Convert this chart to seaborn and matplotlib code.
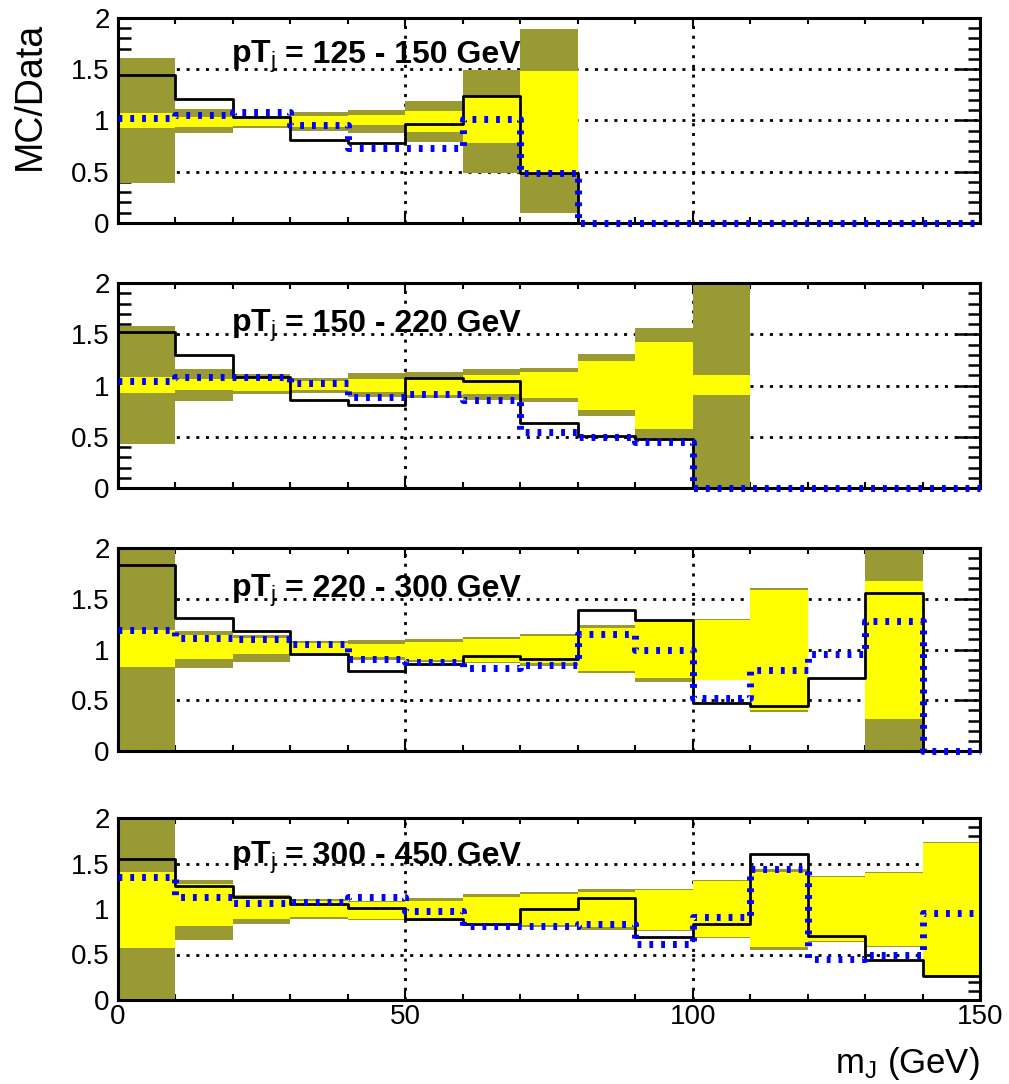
import numpy as np
import pandas as pd
import matplotlib
matplotlib.use("Agg")
import matplotlib.pyplot as plt
from matplotlib.ticker import MultipleLocator, FuncFormatter
import seaborn as sns

# ---------------- data ----------------
edges = list(range(0, 151, 10))
pt_ranges = ["125 - 150", "150 - 220", "220 - 300", "300 - 450"]
nan = float("nan")

# panel 1: pT 125-150
p1_black = [1.44, 1.21, 1.03, 0.81, 0.78, 0.97, 1.24, 0.49, 0, 0, 0, 0, 0, 0, 0]
p1_blue = [1.02, 1.05, 1.08, 0.96, 0.73, 0.73, 1.01, 0.49, 0, 0, 0, 0, 0, 0, 0]
p1_tot_lo = [0.39, 0.875, 0.93, 0.90, 0.88, 0.79, 0.49, 0.10, nan, nan, nan, nan, nan, nan, nan]
p1_tot_hi = [1.61, 1.11, 1.04, 1.085, 1.10, 1.19, 1.49, 1.89, nan, nan, nan, nan, nan, nan, nan]
p1_st_lo = [0.93, 0.94, 0.95, 0.94, 0.96, 0.89, 0.78, 0.49, nan, nan, nan, nan, nan, nan, nan]
p1_st_hi = [1.07, 1.03, 1.015, 1.04, 1.05, 1.09, 1.23, 1.48, nan, nan, nan, nan, nan, nan, nan]

# panel 2: pT 150-220
p2_black = [1.52, 1.30, 1.08, 0.855, 0.81, 1.07, 1.04, 0.63, 0.51, 0.475, 0, 0, 0, 0, 0]
p2_blue = [1.04, 1.08, 1.08, 1.02, 0.89, 0.92, 0.855, 0.55, 0.50, 0.45, 0, 0, 0, 0, 0]
p2_tot_lo = [0.43, 0.85, 0.92, 0.93, 0.89, 0.88, 0.855, 0.84, 0.70, 0.49, 0.01, nan, nan, nan, nan]
p2_tot_hi = [1.58, 1.16, 1.11, 1.07, 1.12, 1.13, 1.16, 1.17, 1.31, 1.56, 2.0, nan, nan, nan, nan]
p2_st_lo = [0.93, 0.96, 0.95, 0.96, 0.94, 0.91, 0.92, 0.875, 0.76, 0.58, 0.91, nan, nan, nan, nan]
p2_st_hi = [1.08, 1.06, 1.07, 1.04, 1.06, 1.07, 1.10, 1.13, 1.24, 1.42, 1.10, nan, nan, nan, nan]

# panel 3: pT 220-300
p3_black = [1.83, 1.31, 1.18, 0.96, 0.79, 0.855, 0.94, 0.91, 1.39, 1.29, 0.47, 0.44, 0.72, 1.56, 0]
p3_blue = [1.19, 1.11, 1.10, 1.05, 0.91, 0.88, 0.82, 0.85, 1.15, 1.00, 0.52, 0.80, 0.96, 1.28, 0]
p3_tot_lo = [0.0, 0.82, 0.88, 0.95, 0.90, 0.88, 0.87, 0.84, 0.77, 0.68, 0.70, 0.38, nan, 0.0, nan]
p3_tot_hi = [2.0, 1.18, 1.14, 1.08, 1.09, 1.10, 1.12, 1.15, 1.24, 1.29, 1.30, 1.61, nan, 2.0, nan]
p3_st_lo = [0.83, 0.91, 0.96, 0.96, 0.93, 0.90, 0.88, 0.87, 0.79, 0.72, 0.70, 0.40, nan, 0.32, nan]
p3_st_hi = [1.19, 1.14, 1.11, 1.06, 1.05, 1.07, 1.10, 1.13, 1.21, 1.27, 1.29, 1.59, nan, 1.67, nan]

# panel 4: pT 300-450
p4_black = [1.55, 1.25, 1.13, 1.05, 1.01, 0.89, 0.84, 1.00, 1.12, 0.69, 0.83, 1.60, 0.70, 0.44, 0.26]
p4_blue = [1.35, 1.13, 1.07, 1.08, 1.13, 0.98, 0.81, 0.81, 0.84, 0.62, 0.91, 1.44, 0.45, 0.50, 0.96]
p4_tot_lo = [0.0, 0.66, 0.83, 0.89, 0.88, 0.87, 0.82, 0.80, 0.77, 0.76, 0.68, 0.55, 0.64, 0.58, 0.26]
p4_tot_hi = [2.0, 1.32, 1.15, 1.11, 1.09, 1.12, 1.16, 1.19, 1.22, 1.22, 1.32, 1.44, 1.36, 1.41, 1.74]
p4_st_lo = [0.57, 0.81, 0.89, 0.91, 0.89, 0.88, 0.84, 0.82, 0.80, 0.77, 0.69, 0.58, 0.65, 0.59, 0.27]
p4_st_hi = [1.41, 1.27, 1.12, 1.09, 1.08, 1.09, 1.13, 1.16, 1.19, 1.21, 1.31, 1.41, 1.35, 1.40, 1.73]

panels = [
    (p1_black, p1_blue, p1_tot_lo, p1_tot_hi, p1_st_lo, p1_st_hi),
    (p2_black, p2_blue, p2_tot_lo, p2_tot_hi, p2_st_lo, p2_st_hi),
    (p3_black, p3_blue, p3_tot_lo, p3_tot_hi, p3_st_lo, p3_st_hi),
    (p4_black, p4_blue, p4_tot_lo, p4_tot_hi, p4_st_lo, p4_st_hi),
]

# ---------------- style ----------------
sns.set_style("white")
plt.rcParams["font.family"] = ["Liberation Sans", "DejaVu Sans"]
plt.rcParams["mathtext.fontset"] = "custom"
plt.rcParams["mathtext.rm"] = "Liberation Sans"
plt.rcParams["mathtext.it"] = "Liberation Sans:italic"
plt.rcParams["mathtext.bf"] = "Liberation Sans:bold"
for k in ["text.color", "axes.labelcolor", "xtick.color", "ytick.color",
          "axes.edgecolor"]:
    plt.rcParams[k] = "black"

OLIVE = "#9a9a34"
YELLOW = "#ffff00"
BLUE = "#0000ff"

fig = plt.figure(figsize=(10.09, 10.84), dpi=100)
W, H = 1009.0, 1084.0
ax_px = [(18, 223), (283, 488), (548, 751), (818, 1000)]
title_base = [1.56, 1.525, 1.52, 1.50]

lefts = np.array(edges[:-1], dtype=float)


def steps(ax, vals, **kw):
    df = pd.DataFrame({"m": edges, "r": list(vals) + [vals[-1]]})
    sns.lineplot(data=df, x="m", y="r", ax=ax, drawstyle="steps-post",
                 estimator=None, sort=False, legend=False, **kw)


for i, (black, blue, tlo, thi, slo, shi) in enumerate(panels):
    top, bot = ax_px[i]
    ax = fig.add_axes([118 / W, 1 - bot / H, (980 - 118) / W, (bot - top) / H])
    ax.set_xlim(0, 150)
    ax.set_ylim(0, 2)

    tlo = np.array(tlo); thi = np.array(thi)
    slo = np.array(slo); shi = np.array(shi)
    m = ~np.isnan(tlo)
    ax.bar(lefts[m], (thi - tlo)[m], bottom=tlo[m], width=10, align="edge",
           color=OLIVE, linewidth=0, zorder=1)
    m = ~np.isnan(slo)
    ax.bar(lefts[m], (shi - slo)[m], bottom=slo[m], width=10, align="edge",
           color=YELLOW, linewidth=0, zorder=1.1)

    steps(ax, black, color="black", linewidth=2.0, zorder=3, clip_on=False)
    steps(ax, blue, color=BLUE, linewidth=5.0, linestyle=(0, (0.55, 1.15)),
          zorder=4, clip_on=False)

    ax.set_xlabel("")
    ax.set_ylabel("")

    ax.xaxis.set_major_locator(MultipleLocator(50))
    ax.xaxis.set_minor_locator(MultipleLocator(10))
    ax.yaxis.set_major_locator(MultipleLocator(0.5))
    ax.yaxis.set_minor_locator(MultipleLocator(0.1))
    ax.yaxis.set_major_formatter(FuncFormatter(lambda v, p: f"{v:g}"))
    ax.xaxis.set_major_formatter(FuncFormatter(lambda v, p: f"{v:g}"))

    ax.set_axisbelow(True)
    ax.grid(True, which="major", color="black", linestyle=(0, (1.1, 2.4)),
            linewidth=2.0)

    ax.tick_params(axis="y", which="major", direction="in", length=18, width=1.8,
                   left=True, right=True, labelsize=20, pad=6)
    ax.tick_params(axis="y", which="minor", direction="in", length=9, width=1.8,
                   left=True, right=True)
    ax.tick_params(axis="x", which="major", direction="in", length=7, width=1.5,
                   bottom=True, top=True, labelsize=20, pad=3)
    ax.tick_params(axis="x", which="minor", direction="in", length=4, width=1.5,
                   bottom=True, top=True)
    if i < 3:
        ax.tick_params(axis="x", labelbottom=False)

    for s in ax.spines.values():
        s.set_linewidth(2.2)
        s.set_color("black")
        s.set_zorder(3.5)

    # panel label
    yb = title_base[i]
    ax.text(19.65, yb, r"$\mathbf{pT}_{\mathrm{j}}$", fontsize=23,
            ha="left", va="baseline", zorder=5)
    ax.text(29.05, yb, "= " + pt_ranges[i] + " GeV", fontsize=23,
            fontweight="bold", ha="left", va="baseline", zorder=5)

fig.text(30 / W, 1 - 96 / H, "MC/Data", rotation=90, fontsize=27,
         ha="center", va="center")
fig.text(980 / W, 1 - 1073 / H, r"m$_{\rm J}$ (GeV)", fontsize=25,
         ha="right", va="baseline")

fig.savefig("out.png", dpi=100)
